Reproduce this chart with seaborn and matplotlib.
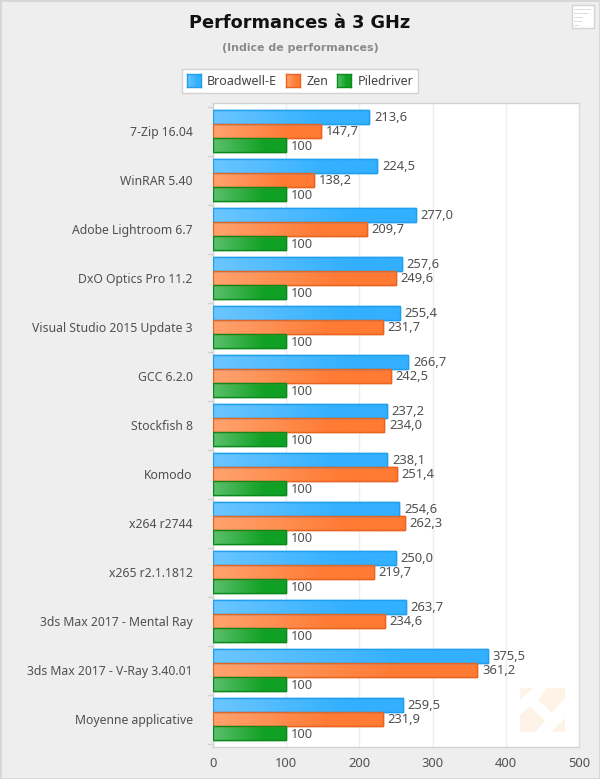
import numpy as np
import pandas as pd
import matplotlib.pyplot as plt
import seaborn as sns
from matplotlib.colors import LinearSegmentedColormap
from matplotlib.patches import Rectangle, Polygon

categories = ['7-Zip 16.04', 'WinRAR 5.40', 'Adobe Lightroom 6.7', 'DxO Optics Pro 11.2',
              'Visual Studio 2015 Update 3', 'GCC 6.2.0', 'Stockfish 8', 'Komodo', 'x264 r2744',
              'x265 r2.1.1812', '3ds Max 2017 - Mental Ray', '3ds Max 2017 - V-Ray 3.40.01',
              'Moyenne applicative']
broadwell = [213.6, 224.5, 277.0, 257.6, 255.4, 266.7, 237.2, 238.1, 254.6, 250.0, 263.7, 375.5, 259.5]
zen = [147.7, 138.2, 209.7, 249.6, 231.7, 242.5, 234.0, 251.4, 262.3, 219.7, 234.6, 361.2, 231.9]
piledriver = [100] * 13
series_names = ['Broadwell-E', 'Zen', 'Piledriver']
x_ticks = [0, 100, 200, 300, 400, 500]

# light end, full colour, border
colours = {'Broadwell-E': ('#6cc6ff', '#33b0ff', '#1f9fee'),
           'Zen': ('#ffa36f', '#ff7a33', '#e8641f'),
           'Piledriver': ('#5cc06c', '#10a025', '#0a8a1c')}

W, H = 600, 779
BG = '#eeeeee'
LINE = '#d2d2d2'
TEXT = '#505050'

sns.set_theme(style='white')
plt.rcParams['font.family'] = ['Noto Sans', 'DejaVu Sans']

df = pd.DataFrame({'Test': categories, 'Broadwell-E': broadwell, 'Zen': zen, 'Piledriver': piledriver})
df = df.melt(id_vars='Test', var_name='CPU', value_name='Indice')

fig = plt.figure(figsize=(6, 7.79), dpi=100, facecolor=BG)
ax = fig.add_axes([213 / W, 1 - 747 / H, 366 / W, 644 / H], facecolor='white')

sns.barplot(data=df, y='Test', x='Indice', hue='CPU', hue_order=series_names, order=categories,
            palette={k: v[1] for k, v in colours.items()}, width=0.86, gap=0, saturation=1,
            errorbar=None, ax=ax, zorder=3)

y_limits = (len(categories) - 0.5 + 3.5 / 49, -0.5 - 3.5 / 49)
ax.set_xlabel('')
ax.set_ylabel('')
ax.set_xticks(x_ticks)
ax.set_yticks(np.arange(len(categories) + 1) - 0.5, minor=True)
ax.tick_params(axis='y', which='major', length=0, pad=14.5, labelsize=8.8, labelcolor=TEXT)
ax.tick_params(axis='y', which='minor', left=True, length=4.5, width=1, color=LINE)
ax.tick_params(axis='x', which='major', bottom=True, length=4.5, width=1, color=BG, pad=2.5, labelsize=9.3, labelcolor=TEXT)
ax.grid(axis='x', color='#eeeeee', linewidth=1, zorder=0)
ax.set_axisbelow(True)
for spine in ax.spines.values():
    spine.set_color(LINE)
    spine.set_linewidth(1)
ax.spines['right'].set_color('#dddddd')


def gradient(light, full):
    cmap = LinearSegmentedColormap.from_list('g', [(0, light), (0.7, full), (1, full)], N=256)
    return cmap, np.linspace(0, 1, 256).reshape(1, -1)


# paint the gradient inside each bar and add its value label
for container, name in zip(ax.containers, series_names):
    light, full, edge = colours[name]
    cmap, grad = gradient(light, full)
    for bar in container:
        b = bar.get_bbox()
        im = ax.imshow(grad, cmap=cmap, aspect='auto', extent=[b.x0, b.x1, b.y1, b.y0], zorder=3.5)
        im.set_clip_path(bar)
        bar.set_edgecolor(edge)
        bar.set_linewidth(1)
        bar.set_zorder(3)
        outline = Rectangle((b.x0, b.y0), b.width, b.height, fill=False, edgecolor=edge, linewidth=1, zorder=4)
        ax.add_patch(outline)
    labels = ['100' if v == 100 else f'{v:.1f}'.replace('.', ',') for v in container.datavalues]
    texts = ax.bar_label(container, labels=labels, padding=3.4, fontsize=9.3, color=TEXT, zorder=5)
    for t in texts:
        t.xyann = (t.xyann[0], t.xyann[1] - 0.7)
ax.set_xlim(0, 500)
ax.set_ylim(*y_limits)

# legend
handles = ax.get_legend_handles_labels()[0]
leg = ax.legend(handles, series_names, ncol=3, loc='center', bbox_to_anchor=(300 / W, 1 - 81 / H),
                bbox_transform=fig.transFigure, frameon=True, fancybox=False, framealpha=1,
                edgecolor=LINE, facecolor='white', fontsize=9, labelcolor='#444444',
                handlelength=1.12, handleheight=1.15, columnspacing=0.75, handletextpad=0.48,
                borderpad=0.4, borderaxespad=0)
leg.get_frame().set_linewidth(1)
fig.canvas.draw()
for h, name in zip(leg.legend_handles, series_names):
    light, full, edge = colours[name]
    e = h.get_window_extent()
    sw = fig.add_axes([e.x0 / W, e.y0 / H, e.width / W, e.height / H], zorder=10)
    cmap, grad = gradient(light, full)
    sw.imshow(grad, cmap=cmap, aspect='auto')
    sw.set_xticks([])
    sw.set_yticks([])
    for spine in sw.spines.values():
        spine.set_color(edge)
        spine.set_linewidth(1)

# titles
fig.text(300 / W, 1 - 23 / H, 'Performances à 3 GHz', ha='center', va='center', fontsize=12.8,
         fontweight='bold', color='#111111', family=['DejaVu Sans'])
fig.text(300 / W, 1 - 48 / H, '(Indice de performances)', ha='center', va='center', fontsize=7.9,
         fontweight='bold', color='#8a8a8a', family=['DejaVu Sans'])

# watermark
wm = '#fdf3e7'
pieces = [[(520, 688), (533, 688), (520, 700)],
          [(547, 688), (565, 688), (565, 698), (552, 713), (538, 700)],
          [(520, 715), (530, 706), (545, 721), (535, 732), (520, 732)],
          [(551, 732), (565, 718), (565, 732)]]
for p in pieces:
    fig.add_artist(Polygon([(x / W, 1 - y / H) for x, y in p], closed=True, facecolor=wm, edgecolor='none', zorder=2.5))

# menu icon top right
fig.add_artist(Rectangle((572 / W, 1 - 28 / H), 22 / W, 23 / H, facecolor='white', edgecolor='#d4d4d4', linewidth=1))
for y, x1 in zip([9, 13, 17, 21, 25], [591, 588, 583, 582, 579]):
    fig.add_artist(Rectangle((574 / W, 1 - (y + 1) / H), (x1 - 574) / W, 1.5 / H, facecolor='#dcdcdc', edgecolor='none'))

# outer frame
fig.add_artist(Rectangle((0, 0), 1, 1, fill=False, edgecolor='#d6d6d6', linewidth=2))

fig.savefig('out.png', dpi=100, facecolor=BG)
